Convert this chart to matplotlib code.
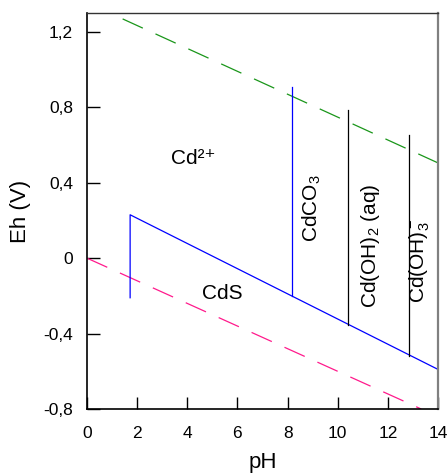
import matplotlib
matplotlib.use("Agg")
import matplotlib.pyplot as plt

plt.rcParams['font.family'] = ['Liberation Sans', 'DejaVu Sans']
plt.rcParams['mathtext.fontset'] = 'custom'
plt.rcParams['mathtext.rm'] = 'Liberation Sans'
plt.rcParams['mathtext.default'] = 'regular'
plt.rcParams['lines.scale_dashes'] = False

# water stability limits (pH, Eh)
o2_ph = [0, 14]
o2_eh = [1.355, 0.505]
h2_ph = [0, 13.33]
h2_eh = [0.0, -0.80]

# CdS field boundary
cds_ph = [1.72, 1.72, 14.0]
cds_eh = [-0.21, 0.23, -0.59]

# CdCO3 / Cd2+ boundary
co3_ph = [8.17, 8.17]
co3_eh = [-0.20, 0.91]

# hydroxide boundaries
oh_ph = [10.4, 12.83]
oh_bottom = [-0.355, -0.52]
oh_top = [0.786, 0.651]

# field labels: text, pH, Eh, rotation
labels = [
    ('Cd²⁺', 4.25, 0.53, 0),
    ('CdS', 5.38, -0.19, 0),
    ('CdCO$_3$', 8.97, 0.263, 90),
    ('Cd(OH)$_2$ (aq)', 11.29, 0.063, 90),
    ('Cd(OH)$_3^-$', 13.28, -0.013, 90),
]

fig = plt.figure(figsize=(4.48, 4.73), dpi=100)
ax = fig.add_axes([0.1942, 0.1353, 0.7835, 0.8372])

ax.plot(o2_ph, o2_eh, color='#1a961a', lw=0.9, linestyle=(23.8, (16, 10)))
ax.plot(h2_ph, h2_eh, color='#ff1a8c', lw=0.9, linestyle=(0, (16, 10)))
ax.plot(cds_ph, cds_eh, color='#0000ff', lw=0.9)
ax.plot(co3_ph, co3_eh, color='#0000ff', lw=0.9)
for p, lo, hi in zip(oh_ph, oh_bottom, oh_top):
    ax.plot([p, p], [lo, hi], color='black', lw=0.9)

for txt, x, y, rot in labels:
    ax.text(x, y, txt, rotation=rot, ha='center', va='center', fontsize=15)

ax.set_xlim(0, 14)
ax.set_ylim(-0.8, 1.3)
ax.set_xticks(range(0, 15, 2))
ax.set_yticks([-0.8, -0.4, 0, 0.4, 0.8, 1.2])
ax.set_yticklabels(['-0,8', '-0,4', '0', '0,4', '0,8', '1,2'])
ax.tick_params(direction='in', length=9, width=1, labelsize=12.5)
ax.tick_params(axis='y', pad=10)
ax.tick_params(axis='x', pad=12)

ax.set_xlabel('pH', fontsize=16, labelpad=8)
ax.set_ylabel('Eh (V)', fontsize=16, labelpad=9)

ax.spines['left'].set_linewidth(1.2)
ax.spines['bottom'].set_linewidth(1.2)
ax.spines['top'].set_linewidth(1.0)
ax.spines['top'].set_color('#333333')
ax.spines['right'].set_linewidth(1.6)
ax.spines['right'].set_color('#808080')

fig.savefig('out.png', dpi=100)
